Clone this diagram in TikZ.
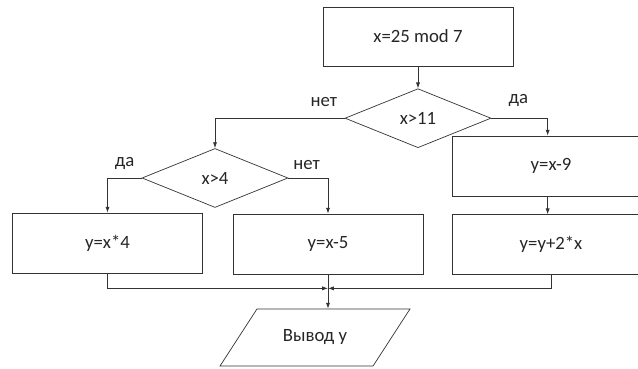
\documentclass[tikz,border=0pt]{standalone}
\usepackage{fontspec}
\setmainfont{Carlito}
\usetikzlibrary{arrows.meta, positioning, shapes.geometric, calc}

\begin{document}
\begin{tikzpicture}[
    x=0.03cm, y=-0.03cm,
    every node/.style={font=\fontsize{16}{19}\selectfont, text=black!85},
    box/.style={draw=black!80, line width=0.6pt, minimum width=5.7cm, minimum height=1.8cm, align=center},
    dec/.style={draw=black!80, line width=0.6pt, diamond, inner sep=0pt, minimum width=4.38cm, minimum height=1.77cm},
    io/.style={draw=black!80, line width=0.6pt, trapezium, trapezium left angle=45, trapezium right angle=135, trapezium stretches=true, minimum width=5.73cm, minimum height=1.71cm},
    lbl/.style={inner sep=1pt},
    arr/.style={-{Latex[length=5pt, width=3.5pt]}, line width=0.6pt, color=black!80},
]
    \useasboundingbox (0,0) rectangle (638,369);

    % Start
    \node[box, minimum height=1.77cm] (calc) at (418,36.5) {x=25 mod 7};
    \node[dec, below=0.66cm of calc] (cond1) {x>11};

    % No branch
    \node[dec] (cond2) at (215,178) {x>4};
    \node[box] (mul) at (107.5,243) {y=x*4};
    \node[box] (sub5) at (328,244) {y=x-5};

    % Yes branch (cut off at the right edge)
    \node[box, minimum width=5.9cm] (sub9) at (551,166) {y=x-9};
    \node[box, minimum width=5.9cm, below=0.54cm of sub9] (add) {y=y+2*x};

    % Output
    \node[io] (out) at (315,337.5) {Вывод y};

    % Arrows
    \draw[arr] (calc) -- (cond1);
    \draw[arr] (cond1.west) -| node[lbl, pos=0.08, above=9pt] (no1) {нет} (cond2.north);
    \draw[arr] (cond1.east) -| node[lbl, pos=0.24, above=9pt] (yes1) {да} ([xshift=-0.1cm]sub9.north);
    \draw[arr] (cond2.west) -| node[lbl, pos=0.25, above=6pt] (yes2) {да} (mul.north);
    \draw[arr] (cond2.east) -| node[lbl, pos=0.23, above=6pt] (no2) {нет} (sub5.north);
    \draw[arr] ([xshift=-0.1cm]sub9.south) -- ([xshift=-0.1cm]add.north);

    % Merge
    \coordinate[below=0.42cm of sub5.south] (merge);
    \draw[arr] (mul.south) |- (merge);
    \draw[arr] (add.south) |- (merge);
    \draw[arr] (sub5.south) -- (sub5.south |- out.north);
\end{tikzpicture}
\end{document}
